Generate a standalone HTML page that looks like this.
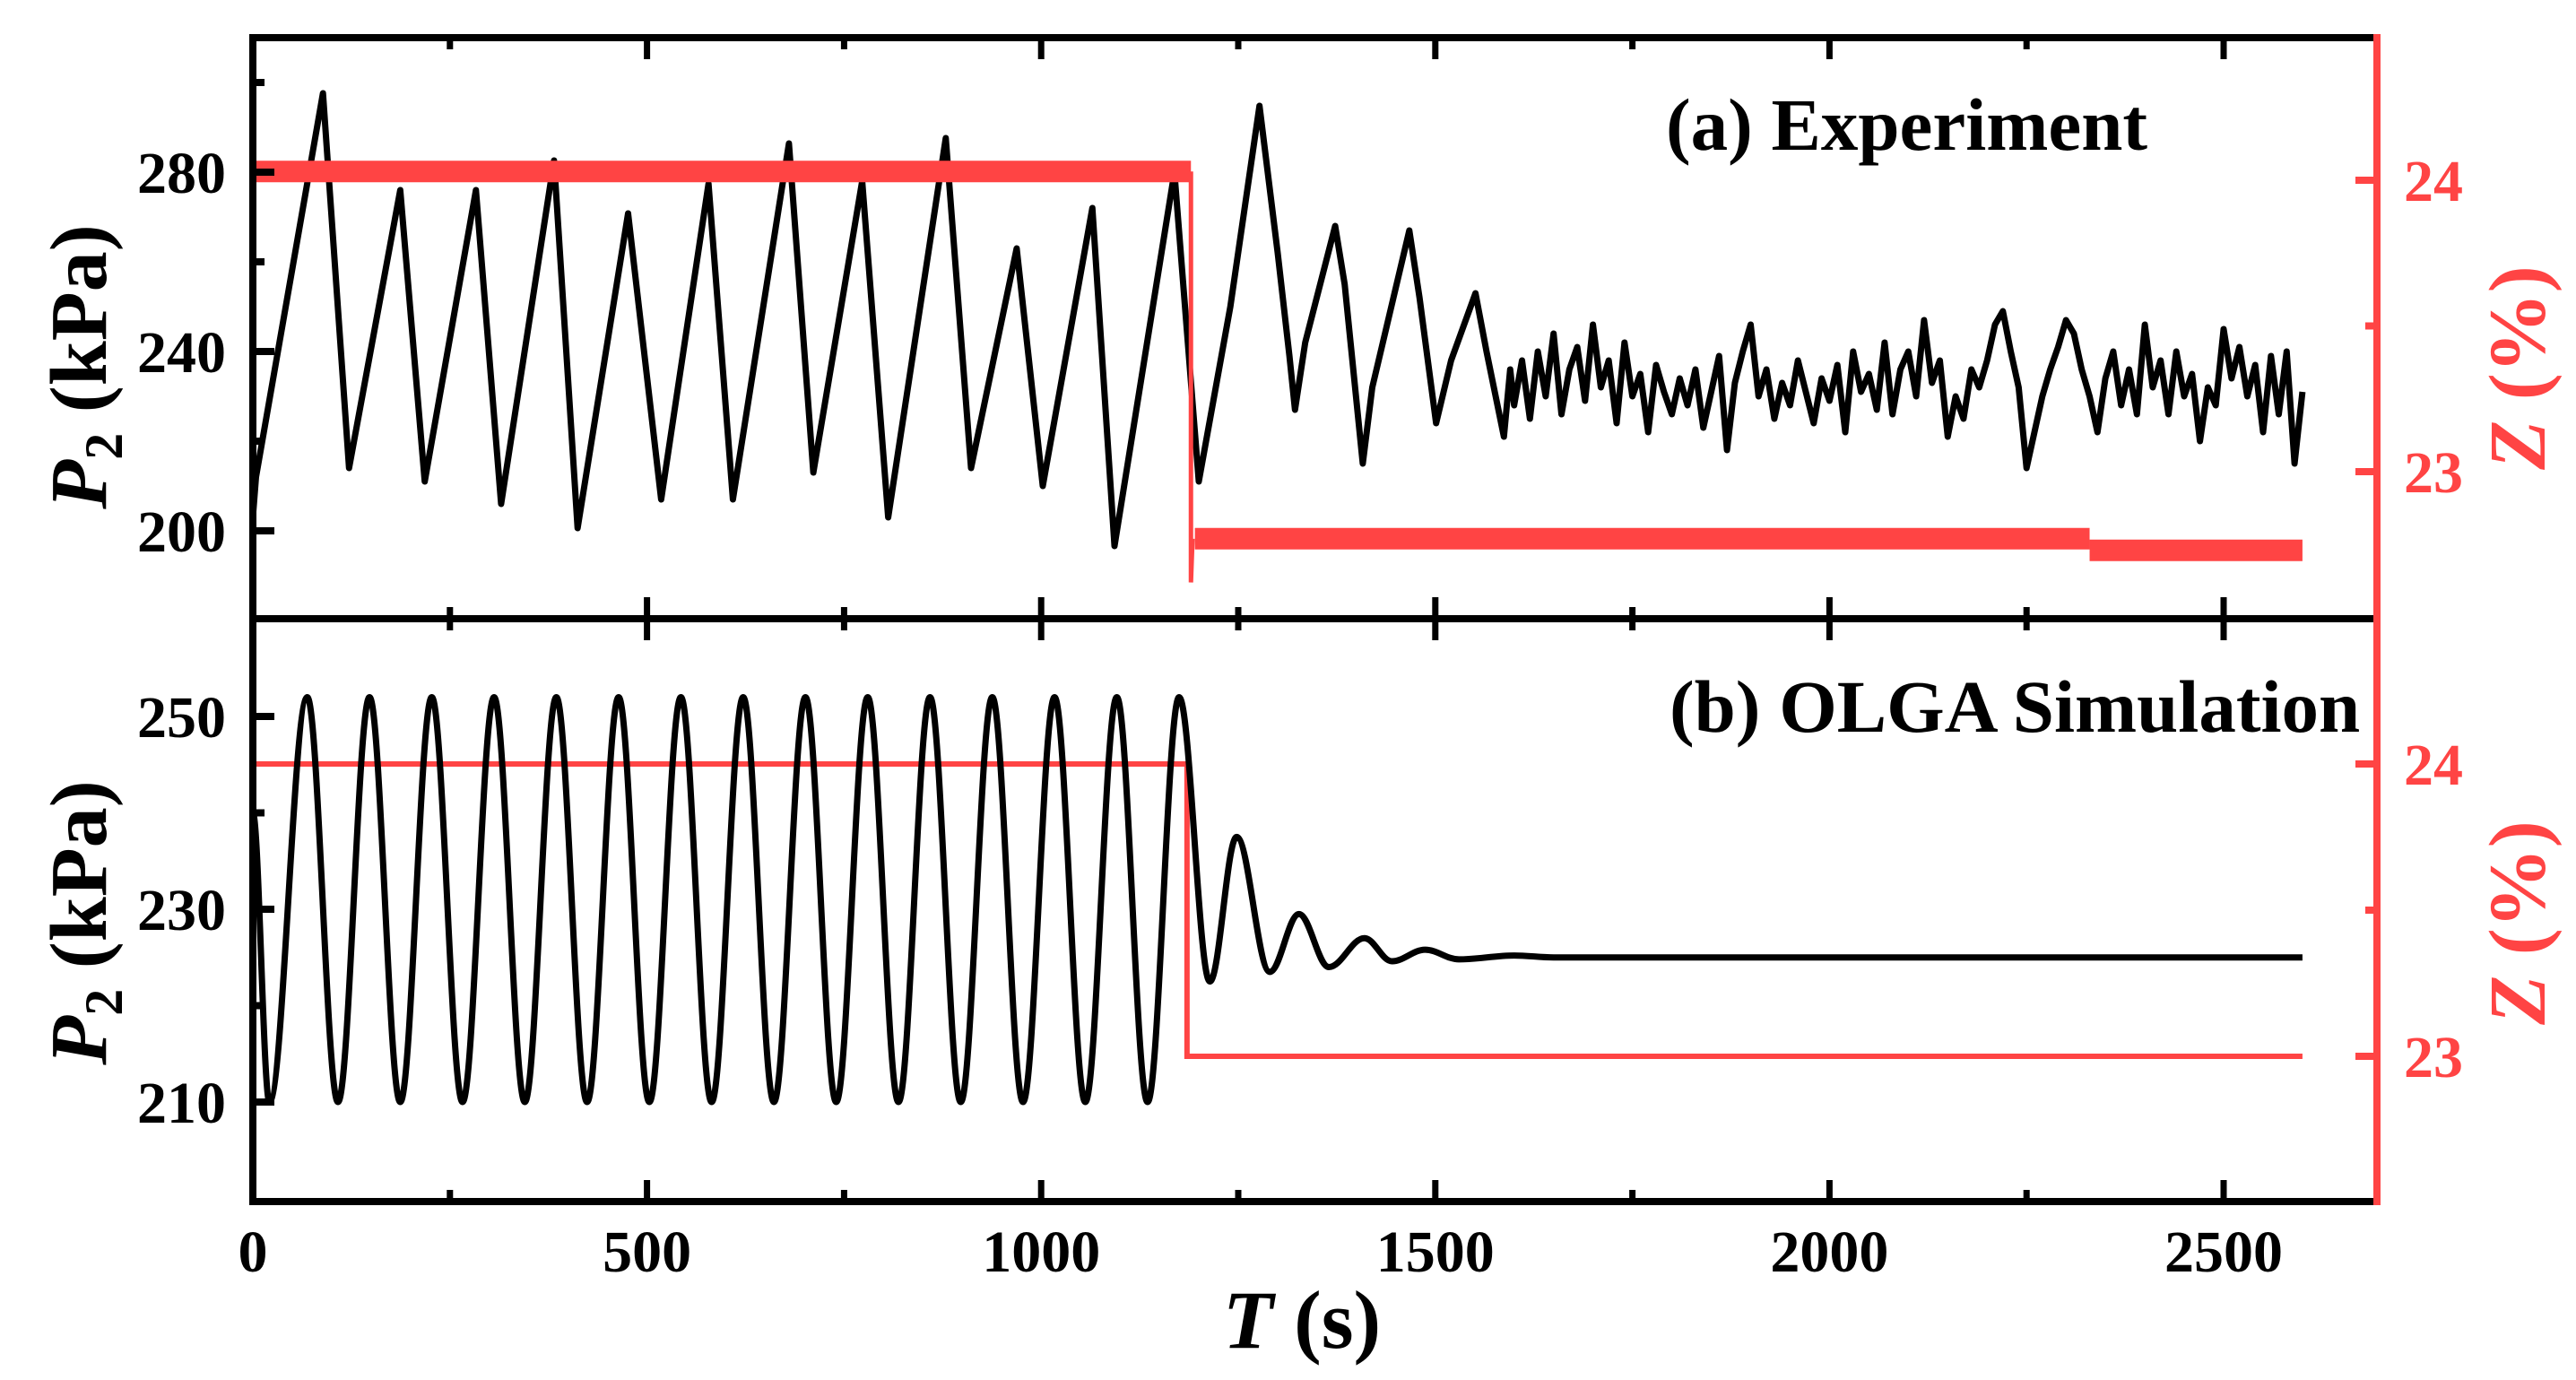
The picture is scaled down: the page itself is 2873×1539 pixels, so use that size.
<!DOCTYPE html>
<html><head><meta charset="utf-8"><style>
html,body{margin:0;padding:0;background:#fff;}
svg{display:block;}
text{font-family:"Liberation Serif","DejaVu Serif",serif;font-weight:bold;}
</style></head><body>
<svg id="chart" width="2873" height="1539" viewBox="0 0 2873 1539" xmlns="http://www.w3.org/2000/svg">
<g id="marks"></g>
<g id="axes"></g>
<text x="1858" y="167" font-size="83">(a) Experiment</text>
<text x="1862" y="816" font-size="83">(b) OLGA Simulation</text>
<text transform="translate(118,409) rotate(-90)" text-anchor="middle" font-size="90"><tspan font-style="italic">P</tspan><tspan font-size="60" dy="18">2</tspan><tspan dy="-18"> (kPa)</tspan></text>
<text transform="translate(118,1029) rotate(-90)" text-anchor="middle" font-size="90"><tspan font-style="italic">P</tspan><tspan font-size="60" dy="18">2</tspan><tspan dy="-18"> (kPa)</tspan></text>
<text transform="translate(2838,410) rotate(-90)" text-anchor="middle" font-size="90" fill="#ff4444"><tspan font-style="italic">Z</tspan> (%)</text>
<text transform="translate(2838,1029) rotate(-90)" text-anchor="middle" font-size="90" fill="#ff4444"><tspan font-style="italic">Z</tspan> (%)</text>
<text x="1452" y="1503" text-anchor="middle" font-size="92"><tspan font-style="italic">T</tspan> (s)</text>
</svg>
<script>
// ---- data ----
const xTicks = [0, 500, 1000, 1500, 2000, 2500];
const xMinorTicks = [250, 750, 1250, 1750, 2250];
const topPTicks = [200, 240, 280];
const topPMinor = [220, 260, 300];
const botPTicks = [210, 230, 250];
const botPMinor = [220, 240];
const zTicks = [23, 24];
const zMinor = [23.5];

const expT = [0,4,89,122,187,218,283,315,382,412,476,518,578,609,680,711,773,806,879,911,969,1002,1065,1093,1169,1200,1240,1277,1300,1315,1322,1335,1373,1385,1408,1420,1467,1480,1501,1520,1551,1565,1587,1595];
const expP = [203,212,297.6,214,276,211,276,206,282.6,200.6,270.8,207,277.4,207,286.4,213,278,203,287.6,214,263,210,272,196.6,280,211,250,294.8,262,239,227,242,268,255,215,232,267,252,224,238,253,240,221,236];
const noiseStartT = 1600;
const noiseStepT = 10;
const noiseP = [228,238,225,240,230,244,226,236,241,229,
246,232,238,224,242,230,235,222,237,231,
226,234,228,236,223,231,239,218,233,240,
246,230,236,225,233,228,238,231,224,234,
229,237,222,240,231,235,227,242,226,236,
240,230,247,233,238,221,230,225,236,232,
238,246,249,240,232,214,222,230,236,241,
247,244,236,230,222,234,240,228,236,226,
246,232,238,226,240,230,235,220,232,228,
245,234,241,230,237,222,239,226,240,215,231];

const expZBandStart = [0, 1195, 2330];
const expZBandEnd = [1190, 2330, 2600];
const expZBandVal = [24.03, 22.77, 22.73];
const expZStepT = [1190, 1190, 1192];
const expZStepZ = [24.03, 22.62, 22.77];

const simT = [0,21,69,108,148,187,227,266,306,345,385,424,464,503,543,582,622,661,701,740,780,819,859,898,938,977,1017,1056,1096,1135,1175,1214,1248,1290,1327,1365,1410,1445,1487,1530,1600,1650,2600];
const simP = [240,210,252,210,252,210,252,210,252,210,252,210,252,210,252,210,252,210,252,210,252,210,252,210,252,210,252,210,252,210,252,222.5,237.5,223.5,229.5,224,227,224.6,225.8,224.8,225.2,225,225];
const simZT = [0, 1185, 1185, 2600];
const simZ = [24, 24, 23, 23];

// ---- scales ----
const X = t => 282 + t * 0.8792;
const YtP = p => 192 - (p - 280) * 5;
const YtZ = z => 201 - (z - 24) * 325;
const YbP = p => 799 - (p - 250) * 10.75;
const YbZ = z => 852 - (z - 24) * 326;

const NS = 'http://www.w3.org/2000/svg';
const marks = document.getElementById('marks');
const axes = document.getElementById('axes');
function mk(tag, parent, attrs) {
  const e = document.createElementNS(NS, tag);
  for (const k in attrs) e.setAttribute(k, attrs[k]);
  parent.appendChild(e);
  return e;
}

// experiment black
let d = '';
expT.forEach((t, i) => { d += (i ? 'L' : 'M') + X(t).toFixed(1) + ' ' + YtP(expP[i]).toFixed(1); });
noiseP.forEach((p, i) => { d += 'L' + X(noiseStartT + i * noiseStepT).toFixed(1) + ' ' + YtP(p).toFixed(1); });
const expLine = mk('path', marks, {d: d, fill: 'none', stroke: '#000', 'stroke-width': 7, 'stroke-linejoin': 'round'});



// experiment red band
expZBandVal.forEach((z, i) => {
  const r = mk('line', marks, {x1: X(expZBandStart[i]), x2: X(expZBandEnd[i]), y1: YtZ(z), y2: YtZ(z), stroke: '#ff4444', 'stroke-width': 24});
  
  
});
let ds = '';
expZStepT.forEach((t, i) => { ds += (i ? 'L' : 'M') + X(t) + ' ' + YtZ(expZStepZ[i]); });
const step = mk('path', marks, {d: ds, fill: 'none', stroke: '#ff4444', 'stroke-width': 5});



// simulation red
let dz = '';
simZT.forEach((t, i) => { dz += (i ? 'L' : 'M') + X(t) + ' ' + YbZ(simZ[i]); });
const simZLine = mk('path', marks, {d: dz, fill: 'none', stroke: '#ff4444', 'stroke-width': 6});



// simulation black (smooth between extrema)
let dp = 'M' + X(simT[0]) + ' ' + YbP(simP[0]);
for (let i = 1; i < simT.length; i++) {
  const x0 = X(simT[i - 1]), y0 = YbP(simP[i - 1]), x1 = X(simT[i]), y1 = YbP(simP[i]);
  const dx = (x1 - x0) * 0.36;
  dp += 'C' + (x0 + dx) + ' ' + y0 + ' ' + (x1 - dx) + ' ' + y1 + ' ' + x1 + ' ' + y1;
}
const simLine = mk('path', marks, {d: dp, fill: 'none', stroke: '#000', 'stroke-width': 7});



// ---- axes ----
const bk = '#000', rd = '#ff4444';
[[42, 'top-axis-line'], [690, 'panel-separator-axis'], [1340, 'bottom-x-axis-line']].forEach(a => {
  const l = mk('line', axes, {x1: 278, x2: 2651, y1: a[0], y2: a[0], stroke: bk, 'stroke-width': 8});
  
  
});
const la = mk('line', axes, {x1: 282, x2: 282, y1: 38, y2: 1344, stroke: bk, 'stroke-width': 8});


const ra = mk('line', axes, {x1: 2651, x2: 2651, y1: 38, y2: 1344, stroke: rd, 'stroke-width': 8});



function xtick(t, len) {
  const x = X(t);
  [[42, 1], [690, -1], [690, 1], [1340, -1]].forEach(s => {
    const l = mk('line', axes, {x1: x, x2: x, y1: s[0], y2: s[0] + s[1] * len, stroke: bk, 'stroke-width': 7});
    
    
  });
}
xTicks.forEach(t => {
  xtick(t, 24);
  const tx = mk('text', axes, {x: X(t), y: 1418, 'text-anchor': 'middle', 'font-size': 66});
  tx.textContent = t;
  
  
});
xMinorTicks.forEach(t => xtick(t, 13));

function ytick(y, len, color, side) {
  const x0 = side ? 2651 : 282;
  const l = mk('line', axes, {x1: x0, x2: x0 + (side ? -len : len), y1: y, y2: y, stroke: color, 'stroke-width': 8});
  
  
}
function ylabel(y, txt, color, side) {
  const t = mk('text', axes, {x: side ? 2681 : 252, y: y + 23, 'text-anchor': side ? 'start' : 'end', 'font-size': 66, fill: color});
  t.textContent = txt;
  
  
}
topPTicks.forEach(p => { ytick(YtP(p), 24, bk, 0); ylabel(YtP(p), p, bk, 0); });
topPMinor.forEach(p => ytick(YtP(p), 13, bk, 0));
botPTicks.forEach(p => { ytick(YbP(p), 24, bk, 0); ylabel(YbP(p), p, bk, 0); });
botPMinor.forEach(p => ytick(YbP(p), 13, bk, 0));
zTicks.forEach(z => { ytick(YtZ(z), 24, rd, 1); ylabel(YtZ(z), z, rd, 1); ytick(YbZ(z), 24, rd, 1); ylabel(YbZ(z), z, rd, 1); });
zMinor.forEach(z => { ytick(YtZ(z), 13, rd, 1); ytick(YbZ(z), 13, rd, 1); });
</script>
</body></html>
